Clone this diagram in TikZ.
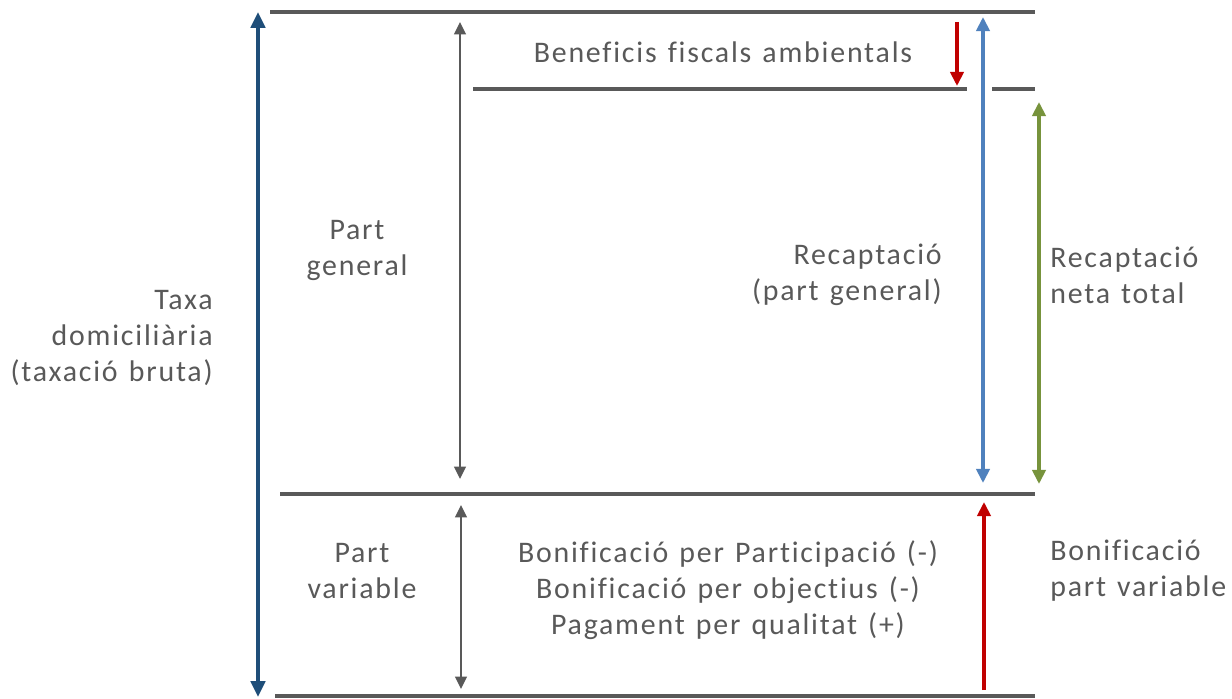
\documentclass[tikz,border=0pt]{standalone}
\usepackage{fontspec}
\setmainfont{Carlito}[Ligatures=NoCommon, LetterSpace=6, WordSpace=1.3]
\usepackage{xcolor}
\usetikzlibrary{arrows.meta,positioning}
\definecolor{bargray}{HTML}{595959}
\definecolor{txtgray}{HTML}{595959}
\definecolor{darkblue}{HTML}{1F4E79}
\definecolor{lightblue}{HTML}{4F81BD}
\definecolor{darkred}{HTML}{C00000}
\definecolor{olive}{HTML}{77933C}
\begin{document}
\begin{tikzpicture}[
  x=0.02cm, y=-0.02cm,
  bar/.style={draw=bargray, line width=2.8pt},
  span/.style={line width=#1, {Triangle[length=9pt,width=8pt]}-{Triangle[length=9pt,width=8pt]}},
  lbl/.style={text=txtgray, font=\fontsize{17}{20.5}\selectfont, inner sep=0pt},
  >=Triangle
]
\useasboundingbox (0,0) rectangle (1232,699);
% horizontal levels
\coordinate (topL) at (270,12);   \coordinate (topR) at (1035,12);
\coordinate (netL) at (473,89);   \coordinate (netM) at (967,89);
\coordinate (netN) at (992,89);   \coordinate (netR) at (1035,89);
\coordinate (midL) at (280,494);  \coordinate (midR) at (1035,494);
\coordinate (botL) at (275,696);  \coordinate (botR) at (1035,696);
\draw[bar] (topL) -- (topR);
\draw[bar] (netL) -- (netM);
\draw[bar] (netN) -- (netR);
\draw[bar] (midL) -- (midR);
\draw[bar] (botL) -- (botR);
% vertical spans
\coordinate (grossT) at (258,12);  \coordinate (grossB) at (258,697);
\coordinate (genT) at (460,22);    \coordinate (genB) at (460,479);
\coordinate (varT) at (461,505);   \coordinate (varB) at (461,689);
\coordinate (envT) at (957,22);    \coordinate (envB) at (957,86);
\coordinate (recT) at (983,17);    \coordinate (recB) at (983,483);
\coordinate (netT) at (1039,102);  \coordinate (netB) at (1039,484);
\coordinate (bonT) at (984,502);   \coordinate (bonB) at (984,690);
\draw[span=2.8pt, darkblue] (grossT) -- (grossB);
\draw[bargray, line width=1.6pt, {Triangle[length=7pt,width=6.5pt]}-{Triangle[length=7pt,width=6.5pt]}] (genT) -- (genB);
\draw[bargray, line width=1.6pt, {Triangle[length=7pt,width=6.5pt]}-{Triangle[length=7pt,width=6.5pt]}] (varT) -- (varB);
\draw[darkred, line width=2pt, -{Triangle[length=8pt,width=7.5pt]}] (envT) -- (envB);
\draw[lightblue, line width=2pt, {Triangle[length=8pt,width=7.5pt]}-{Triangle[length=8pt,width=7.5pt]}] (recT) -- (recB);
\draw[olive, line width=2pt, {Triangle[length=8pt,width=7.5pt]}-{Triangle[length=8pt,width=7.5pt]}] (netT) -- (netB);
\draw[darkred, line width=2pt, -{Triangle[length=8pt,width=7.5pt]}] (bonB) -- (bonT);
% labels
\node[lbl] (benef) at (723,52) {Beneficis fiscals ambientals};
\node[lbl, align=center] (general) at (357,250) {Part\\general};
\node[lbl, align=right, anchor=east] (recgen) at (942,275) {Recaptació\\(part general)};
\node[lbl, align=left, anchor=west] (recnet) at (1050,275) {Recaptació\\neta total};
\node[lbl, align=right, anchor=east] (gross) at (213,338) {Taxa\\domiciliària\\(taxació bruta)};
\node[lbl, align=center] (variable) at (362,571) {Part\\variable};
\node[lbl, align=center] (bonlist) at (728,590) {Bonificació per Participació (-)\\Bonificació per objectius (-)\\Pagament per qualitat (+)};
\node[lbl, align=left, anchor=west] (bonvar) at (1050,571) {Bonificació\\part variable};
\end{tikzpicture}
\end{document}
